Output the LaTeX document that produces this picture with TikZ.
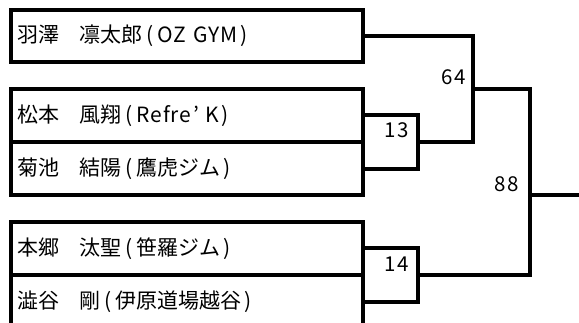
\documentclass[tikz,border=0pt]{standalone}
\usepackage{fontspec}
\setmainfont{Noto Sans CJK JP}
\newcommand{\myLP}{\hspace{0.18em}(\hspace{0.18em}}
\newcommand{\myRP}{\hspace{0.12em})}
\newcommand{\myLat}[1]{{\addfontfeature{LetterSpace=4}#1}}
\begin{document}
\begin{tikzpicture}[x=1pt,y=-1pt,
  line width=3.1pt, line join=miter,
  cell/.style={draw, rectangle, anchor=north west, inner xsep=6pt, inner ysep=0pt,
    outer sep=0pt, minimum height=#1, text width=340pt, align=left,
    font=\fontsize{21pt}{24pt}\selectfont},
  cell/.default=53pt,
  matchbox/.style={draw, rectangle, anchor=north west, inner sep=0pt, outer sep=0pt,
    minimum width=55pt, minimum height=54pt},
  score/.style={anchor=base east, inner sep=0pt, font=\fontsize{20.5pt}{24pt}\selectfont\addfontfeature{LetterSpace=6}}
]
\useasboundingbox (0,0) rectangle (579,323);
\clip (0,0) rectangle (579,323);
% name cells
\node[cell=52pt] (a1) at (11,10) {羽澤　凛太郎\myLP\myLat{OZ GYM}\myRP};
\node[cell] (b1) at (11,89) {松本　風翔\myLP\myLat{Refre}\hspace{0.12em}’\hspace{0.3em}K\myRP};
\node[cell] (b2) at (11,142) {菊池　結陽\myLP 鷹虎ジム\myRP};
\node[cell] (c1) at (11,222) {本郷　汰聖\myLP 笹羅ジム\myRP};
\node[cell] (c2) at (11,275) {澁谷　剛\myLP 伊原道場越谷\myRP};
% match boxes
\node[matchbox] (m13) at (363,115) {};
\node[matchbox] (m14) at (363,248) {};
% junctions
\coordinate (j64) at (473,89);
\coordinate (j88) at (530,195);
\coordinate (out) at (585,195);
% connectors
\draw (a1.east) -| (j64) |- (m13.east);
\draw (j64) -| (j88) |- (m14.east);
\draw (j88) -- (out);
% scores
\node[score] (s64) at (467,85) {64};
\node[score] (s13) at (410,138) {13};
\node[score] (s14) at (410,272) {14};
\node[score] (s88) at (520,192) {88};
\end{tikzpicture}
\end{document}
